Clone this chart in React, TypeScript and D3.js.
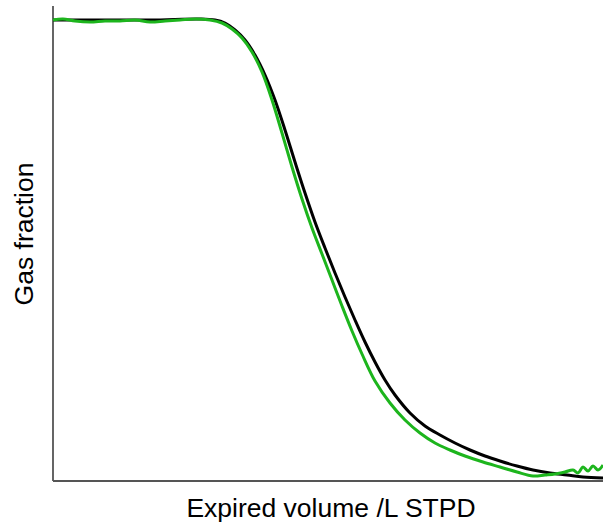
import React from "react";
import * as d3 from "d3";

// Expired volume (L) and gas fraction values
const greenVolume = [0, 0.1, 0.22, 0.37, 0.52, 0.67, 0.82, 0.97, 1.12, 1.27, 1.42, 1.57, 1.69, 1.79, 1.89, 1.99, 2.09, 2.19, 2.29, 2.39, 2.49, 2.59, 2.69, 2.79, 2.89, 2.99, 3.09, 3.22, 3.37, 3.52, 3.67, 3.82, 3.97, 4.12, 4.3, 4.47, 4.64, 4.8, 4.92, 5.02, 5.12, 5.2, 5.25, 5.3, 5.35, 5.4, 5.45, 5.5];
const greenFraction = [0.922, 0.924, 0.92, 0.918, 0.92, 0.92, 0.922, 0.918, 0.92, 0.922, 0.924, 0.922, 0.916, 0.904, 0.886, 0.858, 0.818, 0.762, 0.696, 0.628, 0.564, 0.506, 0.454, 0.402, 0.35, 0.3, 0.254, 0.2, 0.156, 0.122, 0.096, 0.076, 0.062, 0.05, 0.038, 0.028, 0.018, 0.01, 0.012, 0.014, 0.018, 0.022, 0.016, 0.028, 0.02, 0.03, 0.022, 0.032];

const blackVolume = [0, 0.97, 1.47, 1.62, 1.72, 1.82, 1.92, 2.02, 2.12, 2.22, 2.32, 2.42, 2.52, 2.62, 2.72, 2.82, 2.92, 3.02, 3.12, 3.22, 3.32, 3.42, 3.57, 3.72, 3.87, 4.02, 4.17, 4.32, 4.47, 4.64, 4.8, 4.97, 5.14, 5.3, 5.5];
const blackFraction = [0.922, 0.922, 0.924, 0.922, 0.916, 0.902, 0.882, 0.852, 0.812, 0.762, 0.702, 0.638, 0.576, 0.518, 0.466, 0.416, 0.368, 0.322, 0.278, 0.238, 0.202, 0.172, 0.136, 0.11, 0.092, 0.076, 0.062, 0.05, 0.04, 0.03, 0.022, 0.016, 0.012, 0.008, 0.006];

const xLabel = "Expired volume /L STPD";
const yLabel = "Gas fraction";

const W = 603;
const H = 522;
const left = 53;
const right = 603;
const top = 6;
const bottom = 481;

export default function App() {
  const x = d3.scaleLinear().domain([0, 5.5]).range([left, right]);
  const y = d3.scaleLinear().domain([0, 0.95]).range([bottom, top]);
  const line = d3
    .line<[number, number]>()
    .x((d) => x(d[0]))
    .y((d) => y(d[1]))
    .curve(d3.curveCatmullRom.alpha(0.5));
  const green = greenVolume.map((v, i) => [v, greenFraction[i]] as [number, number]);
  const black = blackVolume.map((v, i) => [v, blackFraction[i]] as [number, number]);
  return (
    <svg
      width={W}
      height={H}
      style={{ position: "absolute", left: 0, top: 0, background: "#fff" }}
      fontFamily="'Liberation Sans', Arial, sans-serif"
    >
      <line x1={left} x2={left} y1={top} y2={bottom} stroke="#555" strokeWidth={1.8} />
      <line x1={left} x2={right} y1={bottom} y2={bottom} stroke="#555" strokeWidth={1.8} />
      <path d={line(black) || ""} fill="none" stroke="#000" strokeWidth={3} strokeLinejoin="round" />
      <path d={line(green) || ""} fill="none" stroke="#1db51d" strokeWidth={3} strokeLinejoin="round" />
      <text x={331} y={517} textAnchor="middle" fontSize={26.5} fill="#000">
        {xLabel}
      </text>
      <text
        transform={`translate(33,234) rotate(-90)`}
        textAnchor="middle"
        fontSize={26.5}
        fill="#000"
      >
        {yLabel}
      </text>
    </svg>
  );
}
